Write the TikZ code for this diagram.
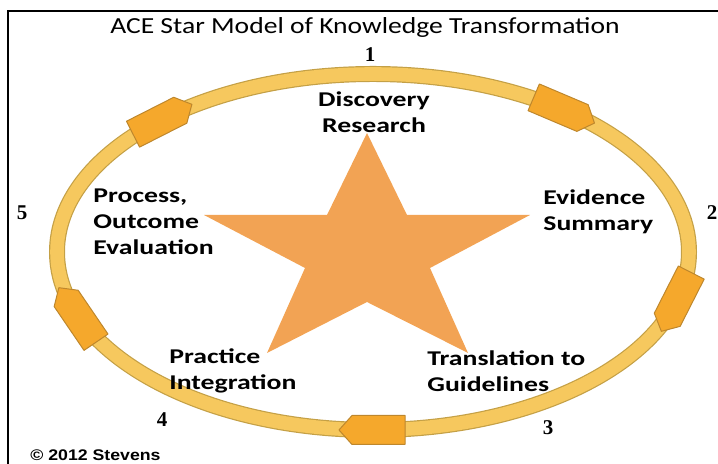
\documentclass[tikz,border=0pt]{standalone}
\usepackage{fontspec}
\setmainfont{Carlito}
\newfontfamily\titlefont[FakeStretch=1.2]{Carlito}
\newfontfamily\stagefont[FakeStretch=1.32]{Carlito}
\newfontfamily\numfont{Liberation Serif}
\newfontfamily\notefont[FakeStretch=1.15]{Liberation Sans}
\definecolor{ringfill}{RGB}{246,200,94}
\definecolor{ringline}{RGB}{196,160,70}
\definecolor{tabfill}{RGB}{245,168,44}
\definecolor{tabline}{RGB}{190,135,45}
\definecolor{starfill}{RGB}{242,163,84}

\begin{document}
\begin{tikzpicture}[x=0.5pt, y=0.5pt,
		stage/.style={font=\stagefont\bfseries\fontsize{10.5}{13}\selectfont, align=left, inner sep=0pt},
		stagenum/.style={font=\numfont\bfseries\fontsize{10.5}{12}\selectfont, inner sep=0pt},
		ringtab/.pic={\draw[fill=tabfill, draw=tabline, line width=0.5pt, line join=round]
			(-32,-14.5) -- (21,-14.5) -- (34,0) -- (21,14.5) -- (-32,14.5) -- cycle;}
		]
		\useasboundingbox (0,0) rectangle (718,464);
		\clip (0,0) rectangle (718,464);
		\draw[line width=0.8pt] (8,453) rectangle (740,-20);
		\node[font=\titlefont\fontsize{11.5}{13}\selectfont, inner sep=0pt] (title) at (365,436) {ACE Star Model of Knowledge Transformation};
		% the cycle ring and its five direction tabs
		\draw[ringline, line width=8pt] (373,212) ellipse [x radius=316, y radius=178];
		\draw[ringfill, line width=6.8pt] (373,212) ellipse [x radius=316, y radius=178];
		\foreach \t [evaluate=\t as \a using {atan2(-178*cos(\t),316*sin(\t))}] in {132,53,-16,-90,201}
			\pic[rotate=\a] at ({373+316*cos(\t)},{212+178*sin(\t)}) {ringtab};
		% star
		\fill[starfill] (367,331) -- (407,249) -- (530,249) -- (430,196) -- (468,111) -- (367,162)
			-- (267,111) -- (305,196) -- (204,249) -- (327,249) -- cycle;
		\node[stage, align=center] (discovery) at (374,352) {Discovery\\Research};
		\node[stage, anchor=west] (evidence) at (543,252) {Evidence\\Summary};
		\node[stage, anchor=west] (translation) at (427,93) {Translation to\\Guidelines};
		\node[stage, anchor=west] (practice) at (169,93) {Practice\\Integration};
		\node[stage, anchor=west] (evaluation) at (93,242) {Process,\\Outcome\\Evaluation};
		\node[stagenum] (n1) at (370,409) {1};
		\node[stagenum] (n2) at (712,251) {2};
		\node[stagenum] (n3) at (548,36) {3};
		\node[stagenum] (n4) at (162,44) {4};
		\node[stagenum] (n5) at (22,251) {5};
		\node[font=\notefont\bfseries\fontsize{7.7}{9}\selectfont, anchor=west, inner sep=0pt] (credit) at (30,9) {© 2012 Stevens};
	\end{tikzpicture}
\end{document}
